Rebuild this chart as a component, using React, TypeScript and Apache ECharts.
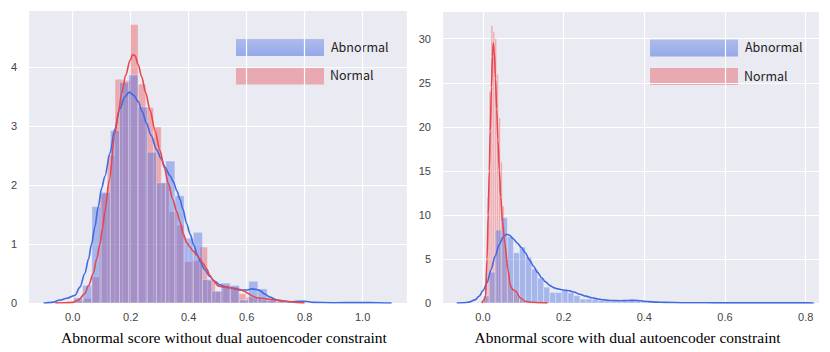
import React, { useEffect, useRef } from "react";
import * as echarts from "echarts";

// ---------- Left panel: without dual autoencoder constraint ----------
const leftAbnormalBinStart = 0.0027;
const leftAbnormalBinWidth = 0.0318;
const leftAbnormalDensity = [
  0.09, 0.3, 1.64, 1.88, 2.93, 3.75, 3.87, 3.33, 2.56, 2.04, 2.41, 1.82, 1.1, 1.2,
  0.4, 0.2, 0.34, 0.3, 0.05, 0.37, 0.24, 0.05, 0.02, 0.01, 0.03, 0, 0, 0, 0, 0, 0, 0, 0.01,
];
const leftNormalBinStart = 0.013;
const leftNormalBinWidth = 0.0266;
const leftNormalDensity = [
  0.04, 0.08, 0.44, 1.86, 2.51, 3.8, 3.78, 4.73, 3.72, 3.32, 2.99, 2.04, 1.55, 1.32,
  0.7, 0.72, 0.95, 0.38, 0.2, 0.3, 0.27, 0.16, 0.1, 0.08, 0.05, 0.05, 0.05, 0.03,
];
const leftAbnormalKde: [number, number][] = [
  [-0.1, 0], [-0.07, 0.01], [-0.044, 0.05], [-0.02, 0.08], [0.008, 0.13], [0.025, 0.27],
  [0.042, 0.5], [0.055, 0.75], [0.065, 1.0], [0.077, 1.3], [0.088, 1.63], [0.1, 1.95],
  [0.111, 2.15], [0.129, 2.55], [0.145, 2.95], [0.163, 3.3], [0.18, 3.5], [0.195, 3.58],
  [0.21, 3.53], [0.226, 3.42], [0.24, 3.25], [0.255, 3.05], [0.27, 2.85], [0.29, 2.6],
  [0.305, 2.45], [0.318, 2.31], [0.336, 2.16], [0.347, 2.06], [0.36, 1.9], [0.37, 1.76],
  [0.38, 1.6], [0.393, 1.35], [0.405, 1.17], [0.418, 0.98], [0.43, 0.82], [0.44, 0.7],
  [0.455, 0.57], [0.473, 0.45], [0.49, 0.37], [0.508, 0.31], [0.525, 0.28], [0.543, 0.26],
  [0.56, 0.24], [0.577, 0.22], [0.6, 0.22], [0.617, 0.24], [0.634, 0.23], [0.646, 0.21],
  [0.663, 0.15], [0.68, 0.1], [0.7, 0.06], [0.715, 0.04], [0.75, 0.02], [0.78, 0.03],
  [0.8, 0.03], [0.83, 0.01], [0.9, 0.005], [1.0, 0.008], [1.05, 0.005], [1.1, 0],
];
const leftNormalKde: [number, number][] = [
  [-0.06, 0], [-0.03, 0.003], [0.0, 0.01], [0.02, 0.05], [0.042, 0.16], [0.055, 0.3],
  [0.071, 0.5], [0.083, 0.75], [0.094, 1.0], [0.103, 1.27], [0.111, 1.55], [0.126, 2.08],
  [0.146, 2.88], [0.158, 3.25], [0.169, 3.56], [0.183, 3.87], [0.198, 4.12], [0.207, 4.22],
  [0.215, 4.2], [0.226, 4.05], [0.238, 3.84], [0.252, 3.57], [0.267, 3.27], [0.284, 2.93],
  [0.301, 2.59], [0.316, 2.3], [0.33, 2.03], [0.345, 1.76], [0.359, 1.55], [0.37, 1.38],
  [0.381, 1.18], [0.393, 1.03], [0.404, 0.95], [0.416, 0.88], [0.428, 0.81], [0.439, 0.75],
  [0.45, 0.67], [0.462, 0.58], [0.473, 0.47], [0.485, 0.38], [0.502, 0.29], [0.52, 0.27],
  [0.543, 0.26], [0.56, 0.25], [0.577, 0.23], [0.592, 0.2], [0.606, 0.16], [0.62, 0.12],
  [0.634, 0.09], [0.65, 0.08], [0.67, 0.07], [0.685, 0.06], [0.7, 0.05], [0.72, 0.04],
  [0.738, 0.03], [0.77, 0.01], [0.8, 0],
];

// ---------- Right panel: with dual autoencoder constraint ----------
const rightAbnormalBinStart = 0.0005;
const rightAbnormalBinWidth = 0.015;
const rightAbnormalDensity = [
  0.8, 3.5, 8.3, 9.7, 7.55, 5.7, 6.35, 5.2, 3.85, 2.83, 1.8, 1.2, 1.2, 1.43, 1.15, 0.83,
  0.45, 0.45, 0.38, 0.3, 0.25, 0.2, 0.15, 0.2, 0.25, 0.22, 0.12, 0.08, 0.06, 0.04, 0.03,
  0.03, 0.02, 0.02, 0.03, 0.02, 0.01, 0.02, 0.01, 0.01, 0.02, 0.01, 0.01, 0.01, 0.01,
  0.01, 0.01, 0.01, 0.01, 0.01, 0.01, 0.01, 0.01,
];
const rightNormalBinStart = 0.001;
const rightNormalBinWidth = 0.0047;
const rightNormalDensity = [
  0.5, 3, 12, 24, 31.5, 30.8, 30.0, 26, 21, 16, 11, 7, 5, 3.5, 2.2, 1.5, 1.3, 1.0, 0.6,
  0.4, 0.25, 0.15, 0.1, 0.06, 0.05, 0.03, 0.02, 0.02, 0.01, 0.01, 0.01, 0.01, 0.01, 0.01,
];
const rightAbnormalKde: [number, number][] = [
  [-0.065, 0], [-0.05, 0.02], [-0.035, 0.1], [-0.02, 0.35], [-0.01, 0.75], [0.0, 1.4],
  [0.01, 2.3], [0.02, 3.8], [0.03, 5.3], [0.04, 6.6], [0.05, 7.5], [0.058, 7.8],
  [0.066, 7.7], [0.075, 7.3], [0.085, 6.8], [0.095, 6.3], [0.105, 5.7], [0.115, 4.9],
  [0.125, 4.2], [0.135, 3.5], [0.145, 2.9], [0.155, 2.4], [0.165, 2.0], [0.175, 1.75],
  [0.185, 1.6], [0.195, 1.5], [0.205, 1.45], [0.215, 1.38], [0.225, 1.25], [0.24, 1.0],
  [0.255, 0.78], [0.27, 0.6], [0.285, 0.45], [0.3, 0.36], [0.32, 0.28], [0.34, 0.26],
  [0.36, 0.29], [0.375, 0.3], [0.39, 0.25], [0.41, 0.16], [0.43, 0.1], [0.45, 0.07],
  [0.5, 0.03], [0.55, 0.02], [0.6, 0.015], [0.7, 0.01], [0.8, 0.01], [0.82, 0],
];
const rightNormalKde: [number, number][] = [
  [-0.003, 0], [0.002, 0.3], [0.0064, 0.75], [0.01, 5], [0.013, 10], [0.0156, 15],
  [0.018, 19.5], [0.021, 24.5], [0.0235, 28], [0.0255, 29.5], [0.028, 28.5], [0.031, 25.5],
  [0.034, 22], [0.037, 18.5], [0.0405, 15.1], [0.044, 12], [0.0485, 9.2], [0.054, 6.8],
  [0.062, 3.8], [0.068, 1.9], [0.075, 1.5], [0.082, 1.3], [0.092, 0.6], [0.105, 0.2],
  [0.12, 0.08], [0.14, 0.03], [0.16, 0.01],
];

const legendLabels = ["Abnormal", "Normal"];
const leftXTitle = "Abnormal score without dual autoencoder constraint";
const rightXTitle = "Abnormal score with dual autoencoder constraint";

const BLUE = "#4169e1";
const RED = "#e8464e";
const BLUE_FILL = "rgba(65,105,225,0.4)";
const RED_FILL = "rgba(232,72,80,0.4)";

function histData(start: number, width: number, dens: number[]) {
  return dens.map((d, i) => [start + i * width, start + (i + 1) * width, d]);
}

function histSeries(name: string, axis: number, data: number[][], fill: string, z: number) {
  return {
    type: "custom",
    name,
    xAxisIndex: axis,
    yAxisIndex: axis,
    data,
    z,
    clip: true,
    silent: true,
    encode: { x: [0, 1], y: 2 },
    renderItem: (_p: any, api: any) => {
      const a = api.coord([api.value(0), api.value(2)]);
      const b = api.coord([api.value(1), 0]);
      return {
        type: "rect",
        shape: { x: a[0], y: a[1], width: b[0] - a[0], height: b[1] - a[1] },
        style: { fill, stroke: "rgba(255,255,255,0.45)", lineWidth: 0.7 },
      };
    },
  };
}

function lineSeries(name: string, axis: number, data: [number, number][], color: string, z: number) {
  return {
    type: "line",
    name,
    xAxisIndex: axis,
    yAxisIndex: axis,
    data,
    z,
    silent: true,
    showSymbol: false,
    smooth: 0.3,
    smoothMonotone: "x",
    lineStyle: { color, width: 1.6 },
  };
}

const tickLabel = { fontFamily: "Liberation Sans, Arial, sans-serif", fontSize: 11, color: "#444" };

function xAxis(grid: number, min: number, max: number, split: number) {
  return {
    type: "value",
    gridIndex: grid,
    min,
    max,
    splitNumber: split,
    axisLine: { show: false },
    axisTick: { show: false },
    splitLine: { show: true, lineStyle: { color: "#ffffff", width: 1.2 } },
    axisLabel: {
      ...tickLabel,
      margin: 8,
      showMinLabel: false,
      showMaxLabel: false,
      formatter: (v: number) => v.toFixed(1),
    },
  };
}

function yAxis(grid: number, max: number, interval: number) {
  return {
    type: "value",
    gridIndex: grid,
    min: 0,
    max,
    interval,
    axisLine: { show: false },
    axisTick: { show: false },
    splitLine: { show: true, lineStyle: { color: "#ffffff", width: 1.2 } },
    axisLabel: { ...tickLabel, margin: 11, showMaxLabel: false },
  };
}

function legendGraphic(x: number, y: number) {
  const font = '12.5px "Noto Sans CJK JP", "Noto Sans", sans-serif';
  return [
    {
      type: "rect",
      left: x,
      top: y,
      shape: { width: 88, height: 17 },
      style: {
        fill: new echarts.graphic.LinearGradient(0, 0, 0, 1, [
          { offset: 0, color: "rgba(65,105,225,0.36)" },
          { offset: 1, color: "rgba(65,105,225,0.5)" },
        ]),
      },
    },
    {
      type: "text",
      left: x + 95,
      top: y + 1,
      style: { text: legendLabels[0], font, fill: "#222" },
    },
    {
      type: "rect",
      left: x,
      top: y + 28.5,
      shape: { width: 88, height: 17 },
      style: { fill: RED_FILL },
    },
    {
      type: "text",
      left: x + 94,
      top: y + 29.5,
      style: { text: legendLabels[1], font, fill: "#222" },
    },
  ];
}

export default function App() {
  const ref = useRef<HTMLDivElement>(null);
  useEffect(() => {
    if (!ref.current) return;
    const chart = echarts.init(ref.current, undefined, { renderer: "svg" });
    const titleFont = '15.5px "Liberation Serif", "Times New Roman", serif';
    chart.setOption({
      animation: false,
      grid: [
        { left: 28, top: 10, width: 379, height: 293, show: true, backgroundColor: "#eaeaf2", borderWidth: 0 },
        { left: 442, top: 11, width: 377, height: 292, show: true, backgroundColor: "#eaeaf2", borderWidth: 0 },
      ],
      xAxis: [xAxis(0, -0.154, 1.153, 6), xAxis(1, -0.1016, 0.833, 5)],
      yAxis: [yAxis(0, 4.975, 1), yAxis(1, 33.15, 5)],
      series: [
        histSeries("Normal", 0, histData(leftNormalBinStart, leftNormalBinWidth, leftNormalDensity), RED_FILL, 1),
        histSeries("Abnormal", 0, histData(leftAbnormalBinStart, leftAbnormalBinWidth, leftAbnormalDensity), BLUE_FILL, 2),
        lineSeries("Abnormal KDE", 0, leftAbnormalKde, BLUE, 3),
        lineSeries("Normal KDE", 0, leftNormalKde, RED, 4),
        histSeries("Normal", 1, histData(rightNormalBinStart, rightNormalBinWidth, rightNormalDensity), RED_FILL, 1),
        histSeries("Abnormal", 1, histData(rightAbnormalBinStart, rightAbnormalBinWidth, rightAbnormalDensity), BLUE_FILL, 2),
        lineSeries("Abnormal KDE", 1, rightAbnormalKde, BLUE, 3),
        lineSeries("Normal KDE", 1, rightNormalKde, RED, 4),
      ],
      graphic: [
        ...legendGraphic(236, 39),
        ...legendGraphic(650, 39.5),
        {
          type: "text",
          x: 224,
          y: 337,
          style: { text: leftXTitle, font: titleFont, fill: "#000", textAlign: "center", textVerticalAlign: "middle" },
        },
        {
          type: "text",
          x: 627.5,
          y: 337,
          style: { text: rightXTitle, font: titleFont, fill: "#000", textAlign: "center", textVerticalAlign: "middle" },
        },
      ],
    });
    return () => chart.dispose();
  }, []);
  return (
    <div
      ref={ref}
      style={{ position: "fixed", left: 0, top: 0, width: 830, height: 352, background: "#fff" }}
    />
  );
}
